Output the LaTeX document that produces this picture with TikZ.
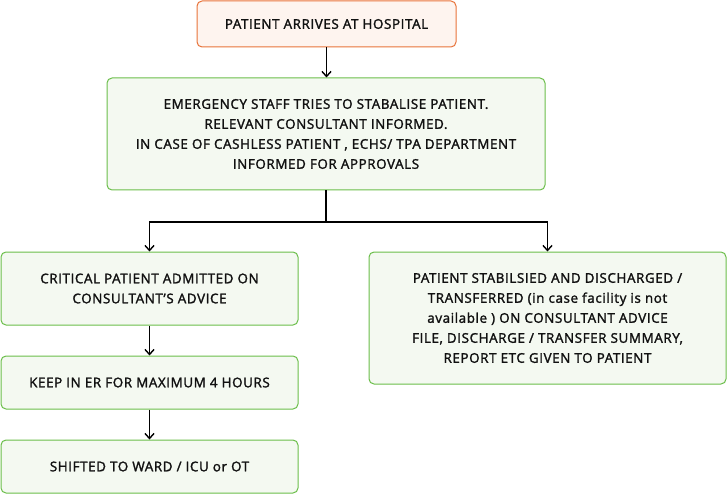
\documentclass[tikz,border=0pt]{standalone}
\usepackage{fontspec}
\setmainfont{Open Sans}[FakeBold=1.8,LetterSpace=4.5]
\usetikzlibrary{arrows.meta}
\definecolor{peachfill}{HTML}{FEF4EF}
\definecolor{peachline}{HTML}{E8733A}
\definecolor{greenfill}{HTML}{F4F9F1}
\definecolor{greenline}{HTML}{6BBE4A}
\definecolor{txt}{HTML}{111111}
\tikzset{
  box/.style={draw=greenline, fill=greenfill, line width=1pt, rounded corners=5pt,
    align=center, inner sep=0pt, text=txt, font=\fontsize{13.4}{20}\selectfont},
  topbox/.style={box, draw=peachline, fill=peachfill},
  conn/.style={line width=1.5pt, -{Straight Barb[length=5pt,width=9pt,line width=1.4pt]}},
  plain/.style={line width=1.5pt}
}
\begin{document}
\begin{tikzpicture}[x=1pt,y=-1pt]
\useasboundingbox (0,0) rectangle (727,494);
\node[topbox, minimum width=259pt, minimum height=46pt] (a) at (326.5,24) {PATIENT ARRIVES AT HOSPITAL};
\node[box, minimum width=438pt, minimum height=112pt] (b) at (326,134) {EMERGENCY STAFF TRIES TO STABALISE PATIENT.\\RELEVANT CONSULTANT INFORMED.\\IN CASE OF CASHLESS PATIENT , ECHS/ TPA DEPARTMENT\\INFORMED FOR APPROVALS};
\node[box, minimum width=297pt, minimum height=73pt] (c) at (149.5,288.5) {CRITICAL PATIENT ADMITTED ON\\CONSULTANT’S ADVICE};
\node[box, minimum width=357pt, minimum height=132pt] (d) at (547.5,318) {PATIENT STABILSIED AND DISCHARGED /\\TRANSFERRED (in case facility is not\\available ) ON CONSULTANT ADVICE\\FILE, DISCHARGE / TRANSFER SUMMARY,\\REPORT ETC GIVEN TO PATIENT};
\node[box, minimum width=297pt, minimum height=53pt] (e) at (149.5,382.5) {KEEP IN ER FOR MAXIMUM 4 HOURS};
\node[box, minimum width=297pt, minimum height=53pt] (f) at (149.5,466.5) {SHIFTED TO WARD / ICU or OT};
\coordinate (j) at (326,222);
\draw[conn] (a.south) -- (a.south |- b.north);
\draw[plain] (b.south -| j) -- (j);
\draw[conn] (j) -| (c.north);
\draw[conn] (j) -| (d.north);
\draw[conn] (c) -- (e);
\draw[conn] (e) -- (f);
\end{tikzpicture}
\end{document}
